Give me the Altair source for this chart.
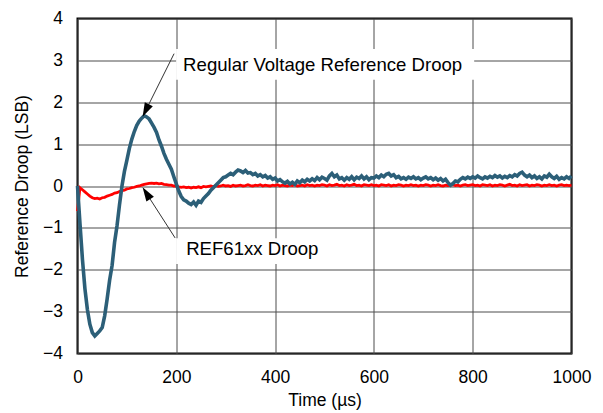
import altair as alt
import pandas as pd

FONT = "Liberation Sans"

# sampling grid (µs)
time_us = list(range(0, 1001, 5))

# Regular voltage reference droop (LSB), 100 µs per row
blue_000 = [0, -0.9, -1.75, -2.45, -2.95, -3.3, -3.5, -3.58, -3.52, -3.46, -3.38, -3.1, -2.7, -2.25, -1.9, -1.35, -0.95, -0.45, 0.0, 0.35]
blue_100 = [0.62, 0.9, 1.12, 1.3, 1.45, 1.55, 1.62, 1.68, 1.65, 1.6, 1.5, 1.4, 1.28, 1.1, 0.95, 0.78, 0.64, 0.52, 0.4, 0.22]
blue_200 = [0.05, -0.12, -0.25, -0.33, -0.36, -0.41, -0.44, -0.38, -0.46, -0.36, -0.39, -0.3, -0.24, -0.18, -0.1, -0.04, 0.02, 0.08, 0.14, 0.2]
blue_300 = [0.22, 0.26, 0.3, 0.27, 0.33, 0.38, 0.36, 0.32, 0.37, 0.31, 0.32, 0.27, 0.3, 0.24, 0.27, 0.22, 0.25, 0.19, 0.22, 0.16]
blue_400 = [0.19, 0.12, 0.15, 0.1, 0.07, 0.11, 0.05, 0.09, 0.04, 0.12, 0.08, 0.14, 0.1, 0.16, 0.12, 0.17, 0.13, 0.2, 0.15, 0.21]
blue_500 = [0.18, 0.14, 0.24, 0.3, 0.22, 0.26, 0.17, 0.2, 0.14, 0.2, 0.16, 0.22, 0.15, 0.21, 0.18, 0.24, 0.17, 0.22, 0.15, 0.2]
blue_600 = [0.19, 0.24, 0.2, 0.26, 0.22, 0.28, 0.3, 0.24, 0.27, 0.2, 0.23, 0.17, 0.2, 0.16, 0.21, 0.18, 0.22, 0.17, 0.2, 0.15]
blue_700 = [0.19, 0.22, 0.17, 0.2, 0.15, 0.19, 0.14, 0.18, 0.12, 0.16, 0.08, 0.02, 0.06, 0.12, 0.1, 0.16, 0.2, 0.17, 0.21, 0.18]
blue_800 = [0.22, 0.19, 0.24, 0.2, 0.17, 0.22, 0.19, 0.23, 0.2, 0.25, 0.21, 0.24, 0.19, 0.23, 0.2, 0.25, 0.22, 0.27, 0.24, 0.3]
blue_900 = [0.33, 0.26, 0.22, 0.26, 0.2, 0.24, 0.18, 0.22, 0.17, 0.24, 0.21, 0.28, 0.22, 0.18, 0.23, 0.16, 0.2, 0.17, 0.22, 0.18]
blue_end = [0.24]

# REF61xx droop (LSB)
red_000 = [-0.6, -0.04, -0.09, -0.14, -0.19, -0.24, -0.28, -0.3, -0.29, -0.31, -0.28, -0.27, -0.24, -0.22, -0.2, -0.17, -0.16, -0.13, -0.11, -0.1]
red_100 = [-0.07, -0.06, -0.04, -0.03, -0.01, 0.0, 0.02, 0.04, 0.05, 0.06, 0.07, 0.06, 0.07, 0.05, 0.06, 0.04, 0.03, 0.02, 0.02, 0.0]
red_200 = [0.0, -0.02, -0.03, -0.02, -0.04, -0.03, -0.05, -0.03, -0.04, -0.02, -0.04, -0.01, -0.02, -0.01, 0.0, -0.02, 0.01, -0.01, 0.0, 0.02]
red_300 = [0.0, 0.01, -0.01, 0.02, 0.0, 0.01, 0.02, 0.0, 0.01, 0.03, 0.01, 0.0, 0.02, 0.01, 0.03, 0.0, 0.02, 0.01, 0.0, 0.02]
red_400 = [0.01, 0.03, 0.0, 0.02, 0.01, 0.0, 0.02, 0.01, 0.03, 0.0, 0.01, 0.02, 0.0, 0.03, 0.01, 0.02, 0.0, 0.02, 0.01, 0.03]
red_500 = [0.02, 0.0, 0.03, 0.01, 0.02, 0.04, 0.01, 0.02, 0.0, 0.03, 0.01, 0.02, 0.04, 0.01, 0.02, 0.0, 0.03, 0.02, 0.01, 0.03]
red_600 = [0.01, 0.02, 0.0, 0.03, 0.02, 0.01, 0.03, 0.0, 0.02, 0.01, 0.03, 0.02, 0.0, 0.02, 0.01, 0.03, 0.01, 0.02, 0.0, 0.02]
red_700 = [0.01, 0.03, 0.02, 0.0, 0.02, 0.01, 0.03, 0.01, 0.0, 0.02, 0.01, 0.02, 0.03, 0.01, 0.02, 0.0, 0.02, 0.03, 0.01, 0.02]
red_800 = [0.03, 0.01, 0.02, 0.0, 0.03, 0.02, 0.01, 0.03, 0.0, 0.02, 0.01, 0.03, 0.02, 0.0, 0.02, 0.04, 0.01, 0.02, 0.0, 0.03]
red_900 = [0.01, 0.02, 0.03, 0.0, 0.02, 0.01, 0.03, 0.02, 0.0, 0.02, 0.01, 0.03, 0.01, 0.02, 0.0, 0.02, 0.03, 0.01, 0.02, 0.01]
red_end = [0.02]

x_ticks = [0, 200, 400, 600, 800, 1000]
y_ticks = [-4, -3, -2, -1, 0, 1, 2, 3, 4]

# annotations (data coordinates)
label_text = ["Regular Voltage Reference Droop", "REF61xx Droop"]
label_t = [213.8, 219.9]
label_v = [2.9, -1.5]
box_t1 = [199.6, 199.6]
box_t2 = [803, 500]
box_v1 = [3.27, -1.25]
box_v2 = [2.54, -1.86]
arrow_t1 = [195.5, 197.6]
arrow_v1 = [3.16, -1.24]
arrow_t2 = [138.4, 139.8]
arrow_v2 = [1.81, -0.18]
head_angle = [206, 327.5]

blue = (blue_000 + blue_100 + blue_200 + blue_300 + blue_400 + blue_500
        + blue_600 + blue_700 + blue_800 + blue_900 + blue_end)
red = (red_000 + red_100 + red_200 + red_300 + red_400 + red_500
       + red_600 + red_700 + red_800 + red_900 + red_end)

df_blue = pd.DataFrame({"t": time_us, "v": blue})
df_red = pd.DataFrame({"t": time_us, "v": red})
df_lab = pd.DataFrame({"txt": label_text, "t": label_t, "v": label_v})
df_box = pd.DataFrame({"t": box_t1, "t2": box_t2, "v": box_v1, "v2": box_v2})
df_arr = pd.DataFrame({"t": arrow_t1, "v": arrow_v1, "t2": arrow_t2, "v2": arrow_v2,
                       "ang": head_angle})

xs = alt.Scale(domain=[0, 1000], nice=False, zero=False)
ys = alt.Scale(domain=[-4, 4], nice=False, zero=False)

x_axis = alt.Axis(values=x_ticks, title="Time (µs)", grid=True, ticks=False, domain=False,
                  labelPadding=15, titlePadding=5, format="d", labelFlush=False)
y_axis = alt.Axis(values=y_ticks, title="Reference Droop (LSB)", grid=True, ticks=False,
                  domain=False, labelPadding=15, titlePadding=11, format="d",
                  labelFlush=False)


def X(field):
    return alt.X(field, scale=xs, axis=x_axis)


def Y(field):
    return alt.Y(field, scale=ys, axis=y_axis)


red_line = alt.Chart(df_red).mark_line(color="#ff0000", strokeWidth=2.8).encode(
    x=X("t:Q"), y=Y("v:Q"),
)
blue_line = alt.Chart(df_blue).mark_line(color="#2c5f78", strokeWidth=3.6).encode(
    x=X("t:Q"), y=Y("v:Q"),
)
boxes = alt.Chart(df_box).mark_rect(color="white").encode(
    x=X("t:Q"), x2="t2:Q", y=Y("v:Q"), y2="v2:Q",
)
labels = alt.Chart(df_lab).mark_text(align="left", baseline="middle", font=FONT,
                                     fontSize=18.6, color="black").encode(
    x=X("t:Q"), y=Y("v:Q"), text="txt:N",
)
arrows = alt.Chart(df_arr).mark_rule(color="#333333", strokeWidth=1).encode(
    x=X("t:Q"), x2="t2:Q", y=Y("v:Q"), y2="v2:Q",
)
heads = alt.Chart(df_arr).mark_point(shape="M0,-1L0.6,0.9L-0.6,0.9Z", filled=True,
                                     color="black", opacity=1, size=220).encode(
    x=X("t2:Q"), y=Y("v2:Q"),
    angle=alt.Angle("ang:Q", scale=None),
)

chart = alt.layer(red_line, blue_line, boxes, labels, arrows, heads).properties(
    width=494, height=335,
    autosize=alt.AutoSizeParams(type="none"),
    padding={"left": 69.5, "top": 10.5, "right": 20, "bottom": 59.5},
).configure_view(
    stroke="black", strokeWidth=2
).configure_axis(
    labelFont=FONT, titleFont=FONT, labelFontSize=17.5, titleFontSize=17.5,
    labelColor="black", titleColor="black", titleFontWeight="normal",
    gridColor="#4d4d4d", gridWidth=1, gridOpacity=1,
)

chart.save("out.html", embed_options={"renderer": "svg", "actions": False})
